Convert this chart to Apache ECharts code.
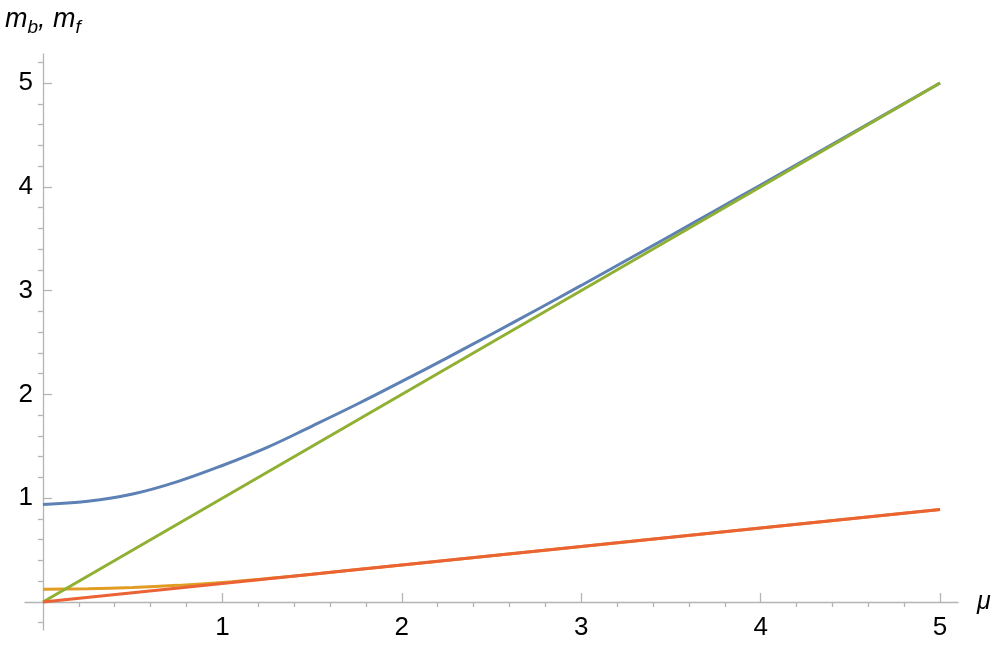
<!DOCTYPE html>
<html>
<head>
<meta charset="utf-8">
<script src="https://cdn.jsdelivr.net/npm/echarts@6/dist/echarts.min.js"></script>
<style>html,body{margin:0;padding:0;background:#fff;}#c{width:997px;height:647px;}</style>
</head>
<body>
<div id="c"></div>
<script>
// μ values and the curves
const muB = [0, 0.25, 0.5, 0.75, 1.0, 1.25, 1.5, 1.75, 2.0, 2.25, 2.5, 2.75, 3.0, 3.25, 3.5, 3.75, 4.0, 4.25, 4.5, 4.75, 5.0];
const mB  = [0.94, 0.97, 1.04, 1.16, 1.315, 1.49, 1.695, 1.905, 2.125, 2.35, 2.58, 2.813, 3.05, 3.29, 3.531, 3.774, 4.018, 4.263, 4.508, 4.754, 5.0];
const muF1 = [0, 0.25, 0.5, 0.75, 1.0, 1.25, 1.5, 2.0, 3.0, 4.0, 5.0];
const mF1  = [0.122, 0.127, 0.14, 0.160, 0.188, 0.226, 0.268, 0.357, 0.535, 0.713, 0.891];
const muLine = [0, 5];
const mLine  = [0, 5];
const muF2 = [0, 1, 2, 3, 4, 5];
const mF2  = [0, 0.178, 0.356, 0.534, 0.712, 0.89];
const xMajor = [1, 2, 3, 4, 5];
const yMajor = [1, 2, 3, 4, 5];
const xLabels = ['1', '2', '3', '4', '5'];
const yLabels = ['1', '2', '3', '4', '5'];

const xMinor = [], yMinor = [];
for (let i = 1; i <= 25; i++) { if (i % 5) xMinor.push(+(i * 0.2).toFixed(2)); }
for (let i = -1; i <= 26; i++) { if (i % 5) yMinor.push(+(i * 0.2).toFixed(2)); }

const zip = (a, b) => a.map((v, i) => [v, b[i]]);
const axisColor = '#b4b4b4';
const labelFont = { fontFamily: 'Liberation Sans', fontSize: 26, color: '#000' };

const chart = echarts.init(document.getElementById('c'), null, { renderer: 'canvas' });
chart.setOption({
  animation: false,
  backgroundColor: '#fff',
  grid: { left: 25, right: 39, top: 54, bottom: 17, containLabel: false, outerBoundsMode: 'none' },
  xAxis: [{
    type: 'value', min: -0.1, max: 5.1,
    axisLine: { onZero: true, lineStyle: { color: axisColor, width: 1.3 } },
    axisTick: { show: true, inside: true, length: 9, customValues: xMajor, lineStyle: { color: axisColor, width: 1.3 } },
    axisLabel: Object.assign({ customValues: xMajor, margin: -15,
      formatter: v => xLabels[xMajor.indexOf(Math.round(v))] }, labelFont),
    splitLine: { show: false },
    name: 'μ', nameLocation: 'end', nameGap: 19,
    nameTextStyle: { fontFamily: 'Liberation Sans', fontStyle: 'italic', fontSize: 25, color: '#000', verticalAlign: 'middle', padding: [4, 0, 0, 0] }
  }, {
    type: 'value', min: -0.1, max: 5.1,
    axisLine: { show: false, onZero: true },
    axisTick: { show: true, inside: true, length: 5, customValues: xMinor, lineStyle: { color: axisColor, width: 1.3 } },
    axisLabel: { show: false }, splitLine: { show: false }
  }],
  yAxis: [{
    type: 'value', min: -0.27, max: 5.28,
    axisLine: { show: true, onZero: true, lineStyle: { color: axisColor, width: 1.3 } },
    axisTick: { show: true, inside: true, length: 9, customValues: yMajor, lineStyle: { color: axisColor, width: 1.3 } },
    axisLabel: Object.assign({ customValues: yMajor, margin: -8,
      formatter: v => yLabels[yMajor.indexOf(Math.round(v))] }, labelFont),
    splitLine: { show: false },
    name: '{i|m}{s|b}{i|, m}{s|f}', nameLocation: 'end', nameGap: 17,
    nameTextStyle: {
      rich: {
        i: { fontFamily: 'Liberation Sans', fontStyle: 'italic', fontSize: 27, color: '#000', lineHeight: 36, verticalAlign: 'middle' },
        s: { fontFamily: 'Liberation Sans', fontStyle: 'italic', fontSize: 19, color: '#000', lineHeight: 19, verticalAlign: 'bottom' }
      }
    }
  }, {
    type: 'value', min: -0.27, max: 5.28,
    axisLine: { show: false, onZero: true },
    axisTick: { show: true, inside: true, length: 5, customValues: yMinor, lineStyle: { color: axisColor, width: 1.3 } },
    axisLabel: { show: false }, splitLine: { show: false }
  }],
  series: [
    { type: 'line', data: zip(muB, mB), smooth: 0.4, showSymbol: false, lineStyle: { color: '#5E81B5', width: 3 }, itemStyle: { color: '#5E81B5' } },
    { type: 'line', data: zip(muF1, mF1), smooth: 0.3, showSymbol: false, lineStyle: { color: '#E19C24', width: 3 }, itemStyle: { color: '#E19C24' } },
    { type: 'line', data: zip(muLine, mLine), showSymbol: false, lineStyle: { color: '#8FB032', width: 3 }, itemStyle: { color: '#8FB032' } },
    { type: 'line', data: zip(muF2, mF2), showSymbol: false, lineStyle: { color: '#EB6235', width: 3 }, itemStyle: { color: '#EB6235' } }
  ]
});
</script>
</body>
</html>
